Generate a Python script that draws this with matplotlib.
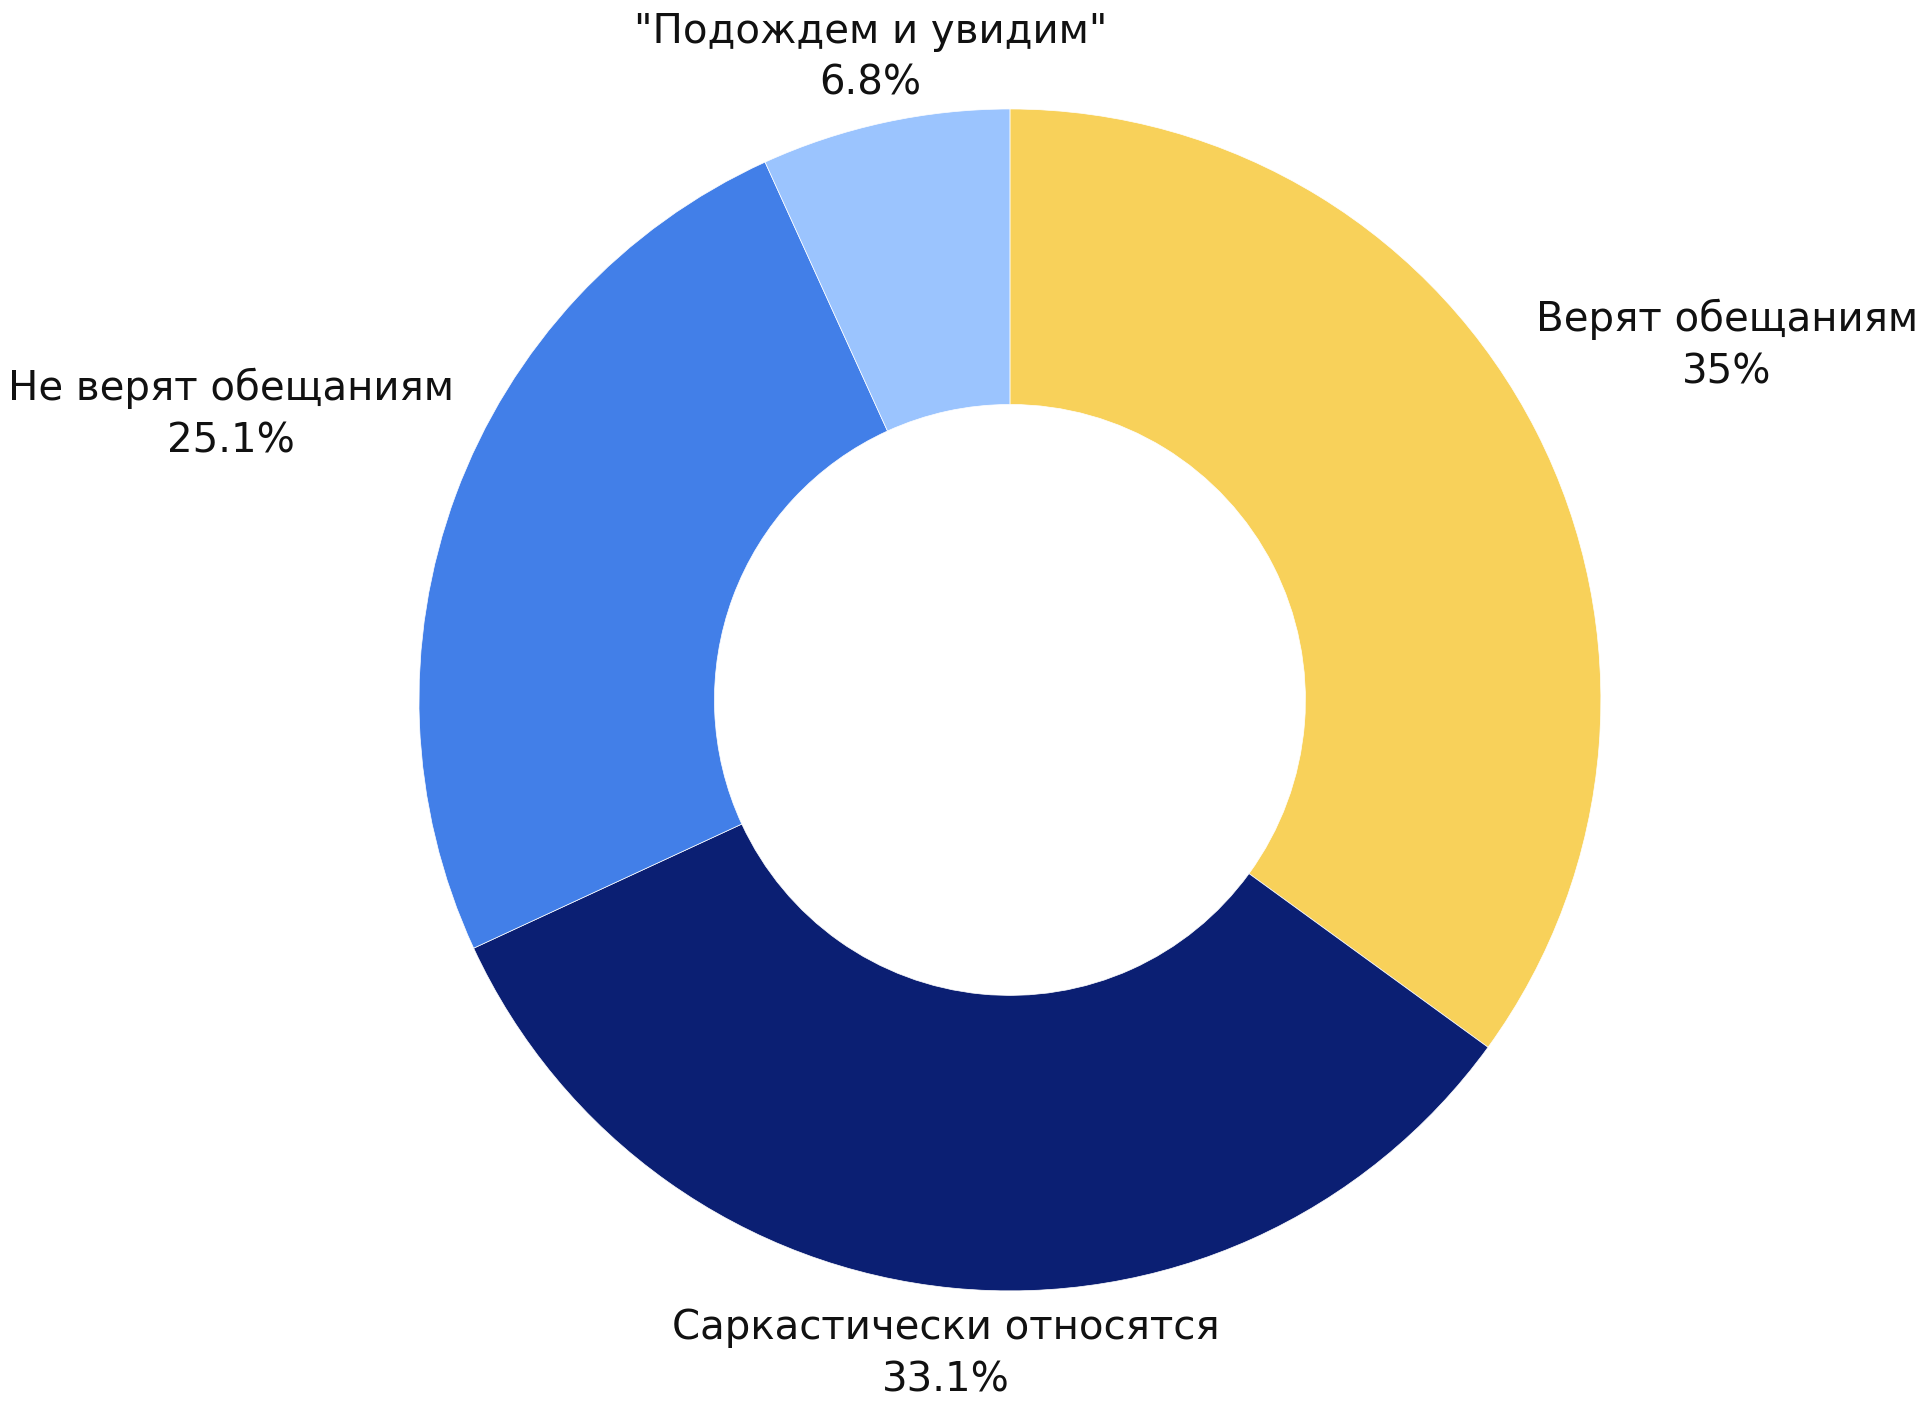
import matplotlib.pyplot as plt
import numpy as np

plt.rcParams['font.family'] = ['DejaVu Sans']

# Данные
labels = ['Верят обещаниям', 'Саркастически относятся', 'Не верят обещаниям', '"Подождем и увидим"']
values = [35, 33.1, 25.1, 6.8]
colors = ['#F8D15A', '#0B1F73', '#427FE8', '#9BC4FE']

fig = plt.figure(figsize=(19.2, 14.04), dpi=100)
ax = fig.add_axes([0, 0, 1, 1])

wedges, _ = ax.pie(values, colors=colors, startangle=90, counterclock=False,
                   radius=1.0, wedgeprops=dict(width=0.5, edgecolor='white', linewidth=0.5))

# Подписи снаружи кольца
for w, lab, val in zip(wedges, labels, values):
    ang = np.deg2rad((w.theta1 + w.theta2) / 2)
    txt = lab + '\n' + ('%g' % val) + '%'
    if abs(np.cos(ang)) > 0.5:
        x = 1.1 * np.cos(ang)
        y = 1.1 * np.sin(ang)
        side = np.sign(np.cos(ang))
        ha = 'left' if side > 0 else 'right'
        ax.text(x - side * 0.09, y + 0.10, txt, ha=ha, va='center', multialignment='center',
                fontsize=29, linespacing=1.4, color='#111111')
    else:
        x = 1.112 * np.cos(ang)
        y = 1.112 * np.sin(ang)
        ax.text(x, y, txt, ha='center', va='center', multialignment='center',
                fontsize=29, linespacing=1.4, color='#111111')

ax.set_xlim(-1.709, 1.540)
ax.set_ylim(-1.191, 1.184)
ax.set_aspect('equal')
ax.axis('off')

fig.savefig('out.png', dpi=100)
